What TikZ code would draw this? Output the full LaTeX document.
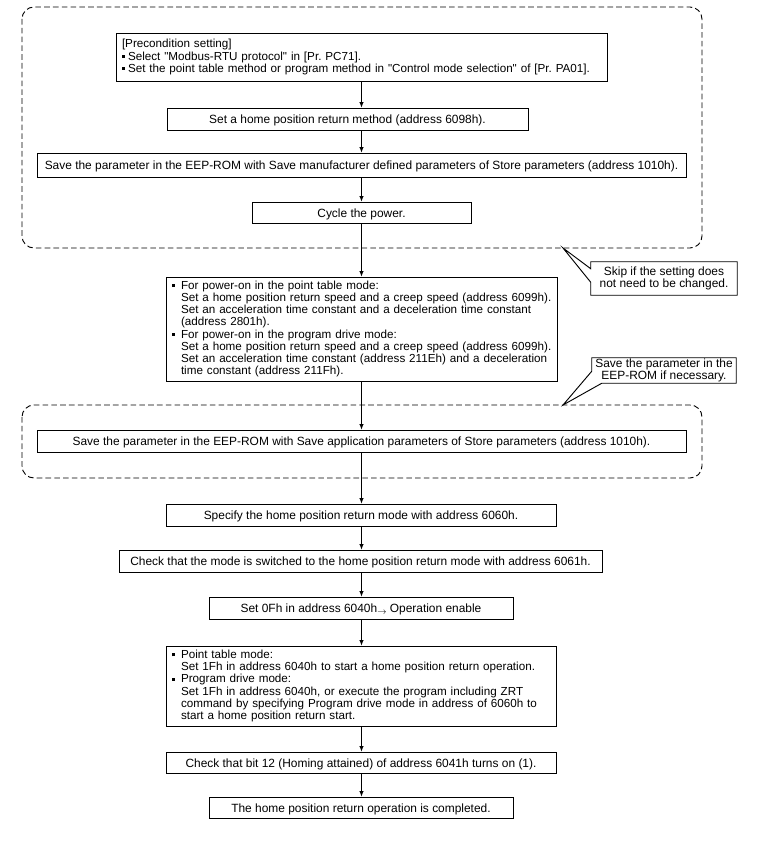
\documentclass[tikz,border=0pt]{standalone}
\usepackage{fontspec}
\setmainfont{Liberation Sans}[Ligatures=TeXOff]
\usetikzlibrary{arrows.meta,calc}
\frenchspacing
\newcommand\fs{\fontsize{8.95}{9.1}\selectfont}
\newcommand\fsm{\fontsize{8.75}{9.1}\selectfont}
\newcommand\bulw[1]{\makebox[#1][l]{\rule[0.2em]{2.3pt}{2.3pt}}}
\newcommand\bul{\bulw{6.75pt}}
\newcommand\ind{\hspace*{6.75pt}}
\newcommand\lline[1]{\mbox{#1}}
% name, x1, y1, x2, y2, options, text
\newcommand\bx[7]{\node[box, text height=0.72em, text depth=0pt, minimum width={(#4-#2)*0.75pt}, minimum height={(#5-#3)*0.75pt}, #6] (#1) at ({(#2+#4)/2},{(#3+#5)/2}) {#7};}
\newcommand\bxl[7]{\node[box, font=\fsm, align=left, inner xsep={#6*0.75pt}, text width={(#4-#2-2*#6)*0.75pt}, minimum height={(#5-#3)*0.75pt}] (#1) at ({(#2+#4)/2},{(#3+#5)/2}) {#7};}
\tikzset{
  box/.style={draw, line width=0.7pt, inner sep=0pt, font=\fs, fill=white},
  arr/.style={line width=0.5pt, -{Latex[length=4pt,width=3.2pt]}},
  region/.style={draw=black, line width=0.7pt, dash pattern=on 4.2pt off 2.4pt, rounded corners=9pt},
  callout/.style={draw, line width=0.7pt, fill=white},
}
\begin{document}
\begin{tikzpicture}[x=0.75pt, y=-0.75pt]
\fill[white] (0,0) rectangle (759,845);
\useasboundingbox (0,0) rectangle (759,845);
% dashed regions
\draw[region] (22,7) rectangle (702,248);
\draw[region] (22,405) rectangle (702,478);
% boxes
\bxl{pre}{116}{33}{607}{81}{6}{\lline{[Precondition setting]}\\\lline{\bulw{4.5pt}Select "Modbus-RTU protocol" in [Pr. PC71].}\\\lline{\bulw{4.5pt}Set the point table method or program method in "Control mode selection" of [Pr. PA01].}}
\bx{meth}{167}{108}{528}{130}{}{Set a home position return method (address 6098h).}
\bx{savem}{37}{153}{686}{177}{}{Save the parameter in the EEP-ROM with Save manufacturer defined parameters of Store parameters (address 1010h).}
\bx{cycle}{252}{202}{471}{223}{}{Cycle the power.}
\bxl{spd}{166}{277}{557}{381}{6}{\lline{\bul For power-on in the point table mode:}\\\lline{\ind Set a home position return speed and a creep speed (address 6099h).}\\\lline{\ind Set an acceleration time constant and a deceleration time constant}\\\lline{\ind (address 2801h).}\\\lline{\bul For power-on in the program drive mode:}\\\lline{\ind Set a home position return speed and a creep speed (address 6099h).}\\\lline{\ind Set an acceleration time constant (address 211Eh) and a deceleration}\\\lline{\ind time constant (address 211Fh).}}
\bx{savea}{37}{430}{686}{452}{}{Save the parameter in the EEP-ROM with Save application parameters of Store parameters (address 1010h).}
\bx{spec}{166}{504}{556}{526}{}{Specify the home position return mode with address 6060h.}
\bx{chk}{119}{550}{602}{572}{}{Check that the mode is switched to the home position return mode with address 6061h.}
\bx{ena}{209}{597}{513}{619}{}{Set 0Fh in address 6040h\raisebox{-0.1em}{\scalebox{0.75}{$\rightarrow$}} Operation enable}
\bxl{start}{166}{646}{556}{726}{6}{\lline{\bul Point table mode:}\\\lline{\ind Set 1Fh in address 6040h to start a home position return operation.}\\\lline{\bul Program drive mode:}\\\lline{\ind Set 1Fh in address 6040h, or execute the program including ZRT}\\\lline{\ind command by specifying Program drive mode in address of 6060h to}\\\lline{\ind start a home position return start.}}
\bx{bit}{166}{752}{556}{773}{}{Check that bit 12 (Homing attained) of address 6041h turns on (1).}
\bx{done}{209}{797}{513}{818}{}{The home position return operation is completed.}
% connectors
\draw[arr] (pre.south) -- (pre.south |- meth.north);
\draw[arr] (pre.south |- meth.south) -- (pre.south |- savem.north);
\draw[arr] (savem.south) -- (cycle.north);
\draw[arr] (cycle.south) -- (cycle.south |- spd.north);
\draw[arr] (cycle.south |- spd.south) -- (cycle.south |- savea.north);
\draw[arr] (cycle.south |- savea.south) -- (cycle.south |- spec.north);
\draw[arr] (cycle.south |- spec.south) -- (cycle.south |- chk.north);
\draw[arr] (cycle.south |- chk.south) -- (cycle.south |- ena.north);
\draw[arr] (cycle.south |- ena.south) -- (cycle.south |- start.north);
\draw[arr] (cycle.south |- start.south) -- (cycle.south |- bit.north);
\draw[arr] (cycle.south |- bit.south) -- (cycle.south |- done.north);
% callouts
\coordinate (tip1) at (563,248);
\node[minimum width={146*0.75pt}, minimum height={33*0.75pt}, inner sep=0pt] (c1) at (664,278.5) {};
\draw[callout] (c1.north west) -- ($(c1.north west)+(0,7)$) -- (tip1) -- ($(c1.south west)+(0,-13)$) -- (c1.south west) -- (c1.south east) -- (c1.north east) -- cycle;
\node[font=\fs, align=center, inner sep=0pt] (c1t) at (c1) {Skip if the setting does\\not need to be changed.};
\coordinate (tip2) at (563,405);
\node[minimum width={144*0.75pt}, minimum height={25*0.75pt}, inner sep=0pt] (c2) at (664,370.5) {};
\draw[callout] (c2.north west) -- ($(c2.south west)+(0,-12)$) -- (tip2) -- ($(c2.south west)+(10,0)$) -- (c2.south east) -- (c2.north east) -- cycle;
\node[font=\fontsize{8.95}{8.7}\selectfont, align=center, inner sep=0pt] (c2t) at (c2) {Save the parameter in the\\EEP-ROM if necessary.};
\end{tikzpicture}
\end{document}
